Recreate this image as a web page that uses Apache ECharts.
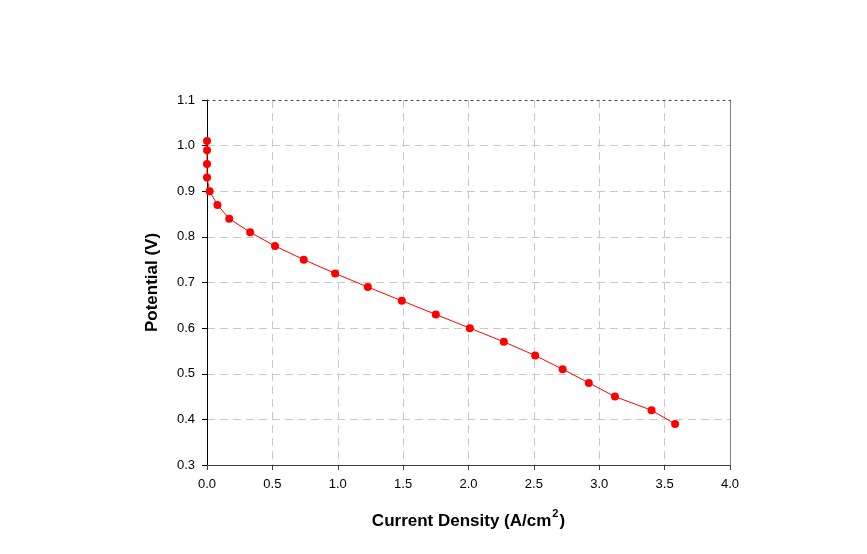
<!DOCTYPE html>
<html>
<head>
<meta charset="utf-8">
<script src="https://cdn.jsdelivr.net/npm/echarts@6/dist/echarts.min.js"></script>
<style>html,body{margin:0;padding:0;background:#fff}#c{width:867px;height:554px}</style>
</head>
<body>
<div id="c"></div>
<script>
const currentDensity = [0.0, 0.0, 0.0, 0.0, 0.02, 0.08, 0.17, 0.33, 0.52, 0.74, 0.98, 1.23, 1.49, 1.75, 2.01, 2.27, 2.51, 2.72, 2.92, 3.12, 3.40, 3.58];
const potential = [1.01, 0.99, 0.96, 0.93, 0.90, 0.87, 0.84, 0.81, 0.78, 0.75, 0.72, 0.69, 0.66, 0.63, 0.60, 0.57, 0.54, 0.51, 0.48, 0.45, 0.42, 0.39];
const xTitleMain = 'Current Density (A/cm';
const xTitleSup = '2';
const xTitleEnd = ')';
const yTitle = 'Potential (V)';

const data = currentDensity.map((x, i) => [x, potential[i]]);
const font = '"Liberation Sans", Arial, sans-serif';
const chart = echarts.init(document.getElementById('c'), null, {renderer: 'canvas'});
chart.setOption({
  animation: false,
  backgroundColor: '#fff',
  grid: {left: 207, right: 137, top: 100, bottom: 89, containLabel: false},
  xAxis: [{
    type: 'value', min: 0, max: 4, interval: 0.5, position: 'bottom',
    name: '{a|' + xTitleMain + '}{s|' + xTitleSup + '}{a|' + xTitleEnd + '}',
    nameLocation: 'middle', nameGap: 43,
    nameTextStyle: {
      fontFamily: font, fontSize: 17, fontWeight: 'bold', color: '#000',
      rich: {
        a: {fontFamily: font, fontSize: 17, fontWeight: 'bold', color: '#000', lineHeight: 22, verticalAlign: 'bottom'},
        s: {fontFamily: font, fontSize: 11, fontWeight: 'bold', color: '#000', lineHeight: 22, verticalAlign: 'top', padding: [0, 1, 0, 1]}
      }
    },
    axisLine: {show: true, onZero: false, lineStyle: {color: '#404040', width: 1}},
    axisTick: {show: true, length: 5, lineStyle: {color: '#404040'}},
    axisLabel: {fontFamily: font, fontSize: 13, color: '#000', margin: 13, formatter: v => v.toFixed(1)},
    splitLine: {show: true, showMinLine: false, showMaxLine: false, lineStyle: {color: '#c8c8c8', type: [8, 5], width: 1}}
  }, {
    type: 'value', min: 0, max: 4, interval: 0.5, position: 'top',
    axisLine: {show: true, onZero: false, lineStyle: {color: '#404040', width: 1, type: [2, 4]}},
    axisTick: {show: false}, axisLabel: {show: false}, splitLine: {show: false}
  }],
  yAxis: [{
    type: 'value', min: 0.3, max: 1.1, interval: 0.1, position: 'left',
    name: yTitle, nameLocation: 'middle', nameGap: 46, nameRotate: 90,
    nameTextStyle: {fontFamily: font, fontSize: 17, fontWeight: 'bold', color: '#000'},
    axisLine: {show: true, onZero: false, lineStyle: {color: '#000', width: 1}},
    axisTick: {show: true, length: 5, lineStyle: {color: '#000'}},
    axisLabel: {fontFamily: font, fontSize: 13, color: '#000', margin: 12, formatter: v => v.toFixed(1)},
    splitLine: {show: true, showMinLine: false, showMaxLine: false, lineStyle: {color: '#c8c8c8', type: [8, 5], width: 1}}
  }, {
    type: 'value', min: 0.3, max: 1.1, interval: 0.1, position: 'right',
    axisLine: {show: true, onZero: false, lineStyle: {color: '#808080', width: 1}},
    axisTick: {show: false}, axisLabel: {show: false}, splitLine: {show: false}
  }],
  series: [{
    type: 'line', data: data, xAxisIndex: 0, yAxisIndex: 0,
    symbol: 'circle', symbolSize: 8, showSymbol: true,
    lineStyle: {color: '#ff0000', width: 1},
    itemStyle: {color: '#ff0000', borderWidth: 0}
  }]
});
</script>
</body>
</html>
